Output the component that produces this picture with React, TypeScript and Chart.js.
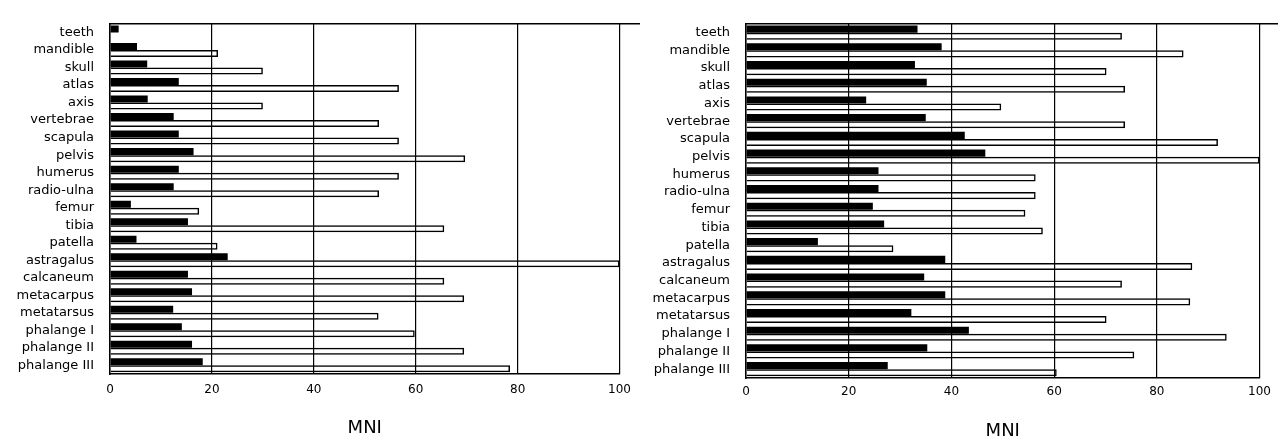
import React, { useEffect, useRef } from "react";
import { Chart, registerables } from "chart.js";

Chart.register(...registerables);

const categories = [
  "teeth", "mandible", "skull", "atlas", "axis", "vertebrae", "scapula", "pelvis",
  "humerus", "radio-ulna", "femur", "tibia", "patella", "astragalus", "calcaneum",
  "metacarpus", "metatarsus", "phalange I", "phalange II", "phalange III",
];

const leftBlack = [1.7, 5.3, 7.3, 13.5, 7.4, 12.5, 13.5, 16.4, 13.5, 12.5, 4.1, 15.3, 5.2, 23.1, 15.3, 16.1, 12.4, 14.1, 16.1, 18.2];
const leftWhite = [0, 21.2, 30, 56.7, 30, 52.8, 56.7, 69.7, 56.7, 52.8, 17.5, 65.6, 21.1, 100, 65.6, 69.5, 52.7, 59.8, 69.5, 78.5];

const rightBlack = [33.4, 38.1, 32.9, 35.2, 23.4, 35.0, 42.6, 46.6, 25.8, 25.8, 24.7, 26.9, 14.0, 38.8, 34.7, 38.8, 32.2, 43.4, 35.3, 27.6];
const rightWhite = [73.2, 85.2, 70.2, 73.8, 49.7, 73.8, 91.9, 100, 56.4, 56.4, 54.4, 57.8, 28.7, 86.9, 73.2, 86.5, 70.2, 93.6, 75.6, 60.5];

const xMin = 0;
const xMax = 100;
const xStep = 20;
const axisTitle = "MNI";

const FONT = "'DejaVu Sans', 'Liberation Sans', Arial, sans-serif";

type Geo = {
  axisW: number;
  top: number;
  xAxisH: number;
  right: number;
  labelPad: number;
  tickPad: number;
  titleBottom: number;
};

const topLine = {
  id: "topLine",
  afterDraw(chart: any) {
    const { ctx, chartArea } = chart;
    ctx.save();
    ctx.strokeStyle = "#000";
    ctx.lineWidth = 1.5;
    ctx.beginPath();
    ctx.moveTo(chartArea.left, chartArea.top);
    ctx.lineTo(chart.width, chartArea.top);
    ctx.stroke();
    ctx.restore();
  },
};

function Panel({ black, white, geo, left, width }: { black: number[]; white: number[]; geo: Geo; left: number; width: number }) {
  const ref = useRef<HTMLCanvasElement | null>(null);
  useEffect(() => {
    if (!ref.current) return;
    const chart = new Chart(ref.current, {
      type: "bar",
      data: {
        labels: categories,
        datasets: [
          {
            data: black,
            backgroundColor: "#000",
            borderWidth: 0,
            categoryPercentage: 0.8,
            barPercentage: 1,
          },
          {
            data: white,
            backgroundColor: "rgba(255,255,255,0)",
            borderColor: "#000",
            borderWidth: 1.5,
            categoryPercentage: 0.8,
            barPercentage: 1,
          },
        ],
      },
      options: {
        indexAxis: "y",
        animation: false,
        responsive: false,
        devicePixelRatio: 1,
        layout: { padding: { top: geo.top, right: geo.right, left: 0, bottom: 0 } },
        plugins: { legend: { display: false }, tooltip: { enabled: false }, title: { display: false } },
        scales: {
          x: {
            type: "linear",
            min: xMin,
            max: xMax,
            ticks: {
              stepSize: xStep,
              color: "#000",
              font: { family: FONT, size: 12 },
              padding: geo.tickPad,
              maxRotation: 0,
            },
            grid: { color: "#000", lineWidth: 1.2, drawTicks: false },
            border: { display: true, color: "#000", width: 1.5 },
            title: {
              display: true,
              text: axisTitle,
              color: "#000",
              font: { family: FONT, size: 18, lineHeight: 1.2 },
              padding: { top: 0, bottom: geo.titleBottom },
            },
            afterFit: (s: any) => {
              s.height = geo.xAxisH;
            },
          },
          y: {
            grid: { display: false, drawTicks: false },
            border: { display: true, color: "#000", width: 1.5 },
            ticks: {
              color: "#000",
              font: { family: FONT, size: 13 },
              padding: geo.labelPad,
              autoSkip: false,
            },
            afterFit: (s: any) => {
              s.width = geo.axisW;
            },
          },
        },
      } as any,
      plugins: [topLine],
    });
    return () => chart.destroy();
  }, []);
  return (
    <canvas
      ref={ref}
      width={width}
      height={439}
      style={{ position: "absolute", left, top: 0, width, height: 439, display: "block" }}
    />
  );
}

export default function App() {
  const leftGeo: Geo = { axisW: 110, top: 14, xAxisH: 65, right: 17, labelPad: 16, tickPad: 9, titleBottom: 0 };
  const rightGeo: Geo = { axisW: 106, top: 19, xAxisH: 61, right: 13, labelPad: 16, tickPad: 7, titleBottom: -3.5 };
  return (
    <div style={{ position: "fixed", left: 0, top: 0, width: 1278, height: 439, background: "#fff", overflow: "hidden" }}>
      <Panel black={leftBlack} white={leftWhite} geo={leftGeo} left={0} width={640} />
      <Panel black={rightBlack} white={rightWhite} geo={rightGeo} left={640} width={638} />
    </div>
  );
}
